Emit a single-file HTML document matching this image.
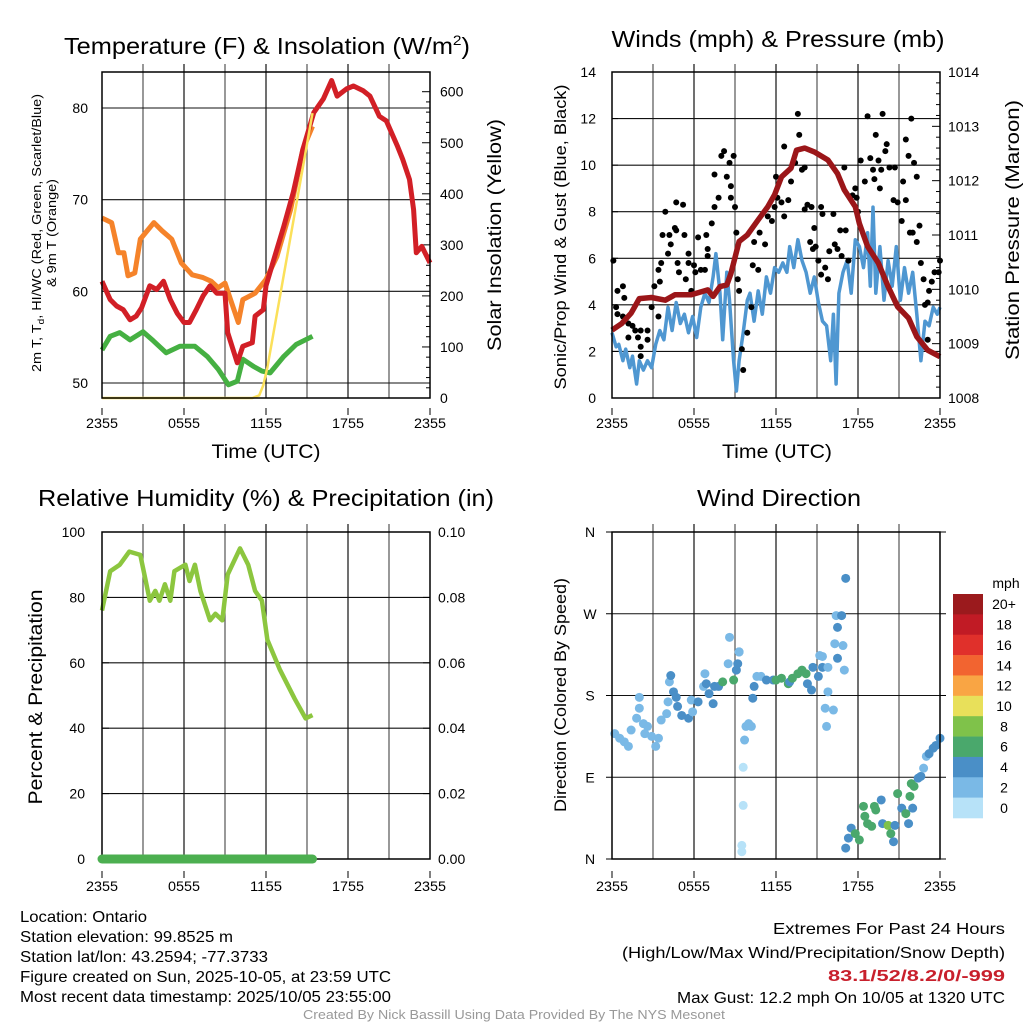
<!DOCTYPE html>
<html><head><meta charset="utf-8"><style>
body{margin:0;background:#fff;}
svg{display:block;font-family:"Liberation Sans",sans-serif;}
</style></head><body>
<svg id="s" width="1024" height="1024" viewBox="0 0 1024 1024"></svg>
<script>
// ---------------- DATA ----------------
const xTickLabels = ["2355","0555","1155","1755","2355"];
const tempHours = [0,0.6,1.07,1.56,2.05,2.5,2.9,3.5,4.0,4.5,5.0,5.5,6.0,6.4,6.9,7.4,7.9,8.4,9.0,9.2,9.6,9.9,10.3,11.0,11.2,11.8,12.0,12.5,13.3,14.0,14.7,15.5,16.2,16.8,17.2,17.9,18.4,19.1,19.6,20.3,20.8,21.6,22.0,22.5,22.8,23.0,23.4,24.0];
const tempValues = [61.1,59.1,58.4,58.0,56.9,57.3,58.2,60.6,60.2,61.1,59.1,57.6,56.6,56.6,58.0,59.5,60.6,59.8,59.8,55.5,53.6,52.2,54.0,54.4,57.3,58.0,60.6,63.1,67.1,70.8,75.5,79.5,81.0,83.0,81.3,82.1,82.4,81.9,81.3,79.1,78.6,75.9,74.4,72.2,68.9,64.2,64.9,63.1];
const t9Hours = [0,0.7,1.2,1.6,1.9,2.4,2.8,3.8,4.4,5.1,5.8,6.6,7.4,8.0,8.5,9.0,9.5,9.97,10.3,11.2,12.0,12.8,13.8,14.7,15.4];
const t9Values = [68.0,67.5,64.2,64.2,61.7,62.0,65.7,67.5,66.6,65.7,63.1,61.8,61.5,61.1,60.4,60.9,58.7,56.6,59.1,59.8,61.3,63.8,68.9,75.5,78.0];
const dewHours = [0,0.6,1.3,2.05,3.0,3.75,4.7,5.7,6.8,7.7,8.5,9.25,9.9,10.3,11.1,11.7,12.3,13.3,14.2,15.4];
const dewValues = [53.6,55.1,55.5,54.7,55.6,54.6,53.3,54.0,54.0,52.9,51.5,49.8,50.2,52.6,51.8,51.3,51.1,52.9,54.2,55.1];
const solarHours = [0,11.0,11.5,11.8,12.1,15.4];
const solarValues = [0,0,5,25,60,558];
const presHours = [0,0.7,1.4,2.0,2.9,3.9,4.6,5.8,7.0,7.4,7.9,8.4,8.7,9.3,9.9,10.7,11.4,11.9,12.4,13.1,13.5,14.1,14.8,15.8,16.5,17.0,17.8,18.1,18.7,19.5,20.2,20.9,21.7,22.3,23.1,24.0];
const presValues = [1009.25,1009.37,1009.56,1009.83,1009.85,1009.8,1009.9,1009.9,1009.99,1009.87,1010.05,1010.08,1010.29,1010.88,1011.0,1011.28,1011.52,1011.74,1012.07,1012.23,1012.56,1012.6,1012.53,1012.38,1012.13,1011.83,1011.52,1011.21,1010.79,1010.48,1010.05,1009.68,1009.47,1009.13,1008.88,1008.76];
const windHours = [0,0.3,0.5,0.8,1.0,1.3,1.5,1.8,2.0,2.3,2.6,2.9,3.2,3.5,3.8,4.1,4.4,4.7,5.0,5.3,5.6,5.9,6.2,6.5,6.8,7.1,7.4,7.6,7.9,8.1,8.4,8.6,8.9,9.1,9.3,9.6,9.9,10.1,10.4,10.7,11.0,11.3,11.6,11.9,12.2,12.5,12.8,13.0,13.3,13.6,13.9,14.2,14.5,14.8,15.1,15.4,15.7,16.0,16.2,16.4,16.6,16.9,17.2,17.5,17.8,18.1,18.4,18.7,18.9,19.1,19.3,19.6,19.9,20.2,20.5,20.8,21.1,21.4,21.7,22.0,22.3,22.6,22.9,23.2,23.5,23.8,24.0];
const windValues = [2.8,2.2,2.3,1.6,2.1,1.3,1.8,0.6,1.6,1.2,1.6,1.3,2.3,2.9,2.5,3.9,2.9,4.1,3.2,3.6,2.8,3.5,2.6,3.9,4.5,4.1,5.2,6.2,4.5,2.5,5.4,4.2,1.6,0.3,1.6,2.8,4.2,4.5,3.3,4.6,3.6,5.2,4.5,5.6,5.4,5.8,5.4,6.5,5.6,6.8,5.9,5.4,4.5,5.2,4.1,3.3,3.1,1.6,3.6,0.6,4.5,5.4,5.9,4.5,6.8,6.5,5.6,7.1,4.8,8.2,4.5,6.5,4.2,5.9,4.8,6.5,4.2,5.6,4.5,5.4,3.6,1.6,3.3,3.1,3.9,3.6,3.9];
const gustHours = [0.1,0.4,0.8,0.9,0.3,0.4,0.8,1.2,1.5,1.2,1.7,1.9,2.1,2.6,2.1,2.1,2.6,2.9,3.1,3.4,3.4,3.6,3.5,3.7,3.9,4.1,4.2,4.3,4.6,4.7,4.7,4.8,4.9,5.2,5.3,5.4,5.6,5.6,5.8,6.0,6.1,6.5,6.8,6.3,6.9,7.0,7.0,7.3,7.5,7.8,7.5,8.0,8.2,8.4,8.7,8.9,8.6,8.7,9.0,9.1,9.2,9.3,9.5,9.6,9.9,10.2,10.3,10.7,10.4,10.8,11.2,11.4,11.7,11.9,12.0,12.1,12.4,12.6,12.6,12.9,13.1,13.4,13.6,13.7,13.9,14.1,14.1,14.3,14.6,14.8,14.5,14.7,14.9,15.1,15.3,15.4,15.3,15.6,15.8,15.9,16.2,16.3,16.5,16.7,16.8,17.0,17.1,17.3,17.6,17.8,17.9,18.0,18.2,18.5,18.7,18.9,19.1,19.2,19.3,19.5,19.6,19.7,19.8,20.0,20.1,20.3,20.6,20.7,20.9,21.2,21.3,21.5,21.5,21.7,21.8,21.9,22.0,22.1,22.3,22.3,22.5,22.6,22.8,22.9,23.1,23.2,23.4,23.6,23.9,24.0,23.1];
const gustValues = [5.9,4.6,4.8,4.3,3.9,3.6,3.5,3.2,3.1,2.6,2.9,2.6,2.9,2.9,2.2,1.8,2.5,3.9,4.8,3.5,5.5,5.8,5.0,7.0,8.0,6.2,7.0,6.6,7.3,7.2,8.4,5.8,5.4,8.3,7.0,5.1,6.2,5.8,4.6,5.7,5.4,5.5,5.5,6.9,7.0,6.4,6.1,7.5,8.2,8.6,9.6,10.4,10.6,9.5,9.1,10.4,10.1,8.6,8.2,7.1,5.1,4.6,2.1,1.2,2.8,3.9,5.7,5.5,6.7,7.1,6.6,7.8,7.6,8.2,9.5,8.6,8.4,10.8,7.8,8.5,9.3,10.1,12.2,11.3,9.8,9.9,8.1,8.3,8.2,7.3,6.7,6.4,6.5,5.9,8.2,7.9,5.3,5.6,5.1,6.3,7.9,6.6,6.4,7.2,6.1,9.9,7.2,5.9,8.7,9.0,8.6,8.0,10.2,9.3,12.1,10.3,9.8,9.4,11.3,10.2,9.0,9.8,12.2,10.6,10.9,9.9,8.5,9.9,8.4,7.6,9.3,8.5,11.1,10.4,7.1,12.0,7.1,10.1,9.5,6.7,7.4,5.8,5.1,4.0,4.1,4.6,5.0,5.4,5.4,5.9,2.5];
const rhHours = [0,0.6,1.3,2.0,2.8,3.1,3.5,3.9,4.2,4.6,5.0,5.3,6.1,6.4,6.8,7.2,7.9,8.3,8.8,9.2,10.1,10.7,11.2,11.7,12.1,13.0,14.1,14.9,15.4];
const rhValues = [76,88,90,94,93,87,79,82,79,84,79,88,90,85,90,82,73,75,73,87,95,90,82,79,67,58,49,43,44];
const precipHours = [0,15.4];
const precipValues = [0,0];
const dirHours = [0.2,0.56,0.9,1.2,1.4,1.8,2.0,2.0,2.3,2.6,2.4,2.9,3.2,3.4,3.6,4.0,4.1,4.2,4.3,4.5,4.7,4.8,5.1,5.6,5.9,5.8,6.3,6.7,6.8,6.9,7.1,7.4,7.5,7.8,8.1,8.5,8.6,8.9,9.1,9.2,9.3,9.3,9.6,9.7,9.8,10.0,10.2,9.6,9.5,9.5,10.3,10.4,10.6,10.9,11.3,11.8,12.0,12.4,12.9,13.0,13.2,13.6,13.9,14.2,14.3,14.6,14.7,15.1,15.2,15.4,15.4,15.6,15.7,15.8,15.8,16.2,16.3,16.4,16.5,16.5,16.8,16.9,17.0,17.1,17.1,17.3,17.5,17.8,18.1,18.4,18.5,18.7,19.0,19.2,19.3,19.7,19.8,20.2,20.4,20.6,20.7,20.9,21.2,21.5,21.7,21.8,21.9,22.0,22.1,22.4,22.6,22.8,23.0,23.2,23.5,23.7,24.0];
const dirDegrees = [138,133,129,124,142,155,178,166,149,146,138,135,124,133,153,160,173,195,202,184,178,168,158,155,162,175,173,190,204,193,182,171,190,190,195,215,244,197,208,215,228,228,101,131,146,149,146,59,15,8,177,190,201,201,197,197,197,199,193,195,199,204,208,204,193,186,211,201,224,223,211,166,146,184,211,164,237,268,255,221,268,235,208,309,12,23,34,28,21,58,47,39,36,58,54,65,39,37,28,19,37,72,56,50,39,69,83,56,80,89,91,100,113,116,122,125,133];
const dirSpeeds = [2,2,2,1.5,2,2,1,1,1,1,2,2,1.5,2.5,2,2,2,2,4,4,4,4,4,3.5,2,2,4,2,2,4,4,4,4,4,6,2,2,6,4,4,4,2,0.5,1,1,2,2,0.5,0.5,0.5,4,4,2,2,4,4,6,6,6,4,6,6,6,6,4,4,4,4,2,2,4,2,2,2,2,2,2,2,4,4,4,2,1,4,4,4,4,6,6,6,6,6,6,6,6,4,4,8,6,4,4,6,4,6,4,6,6,4,6,4,4,2,2,4,4,4,4];
const cbLabels = ["20+","18","16","14","12","10","8","6","4","2","0"];
const cbColors = ["#9b1a1d","#c11b25","#e0302b","#f26430","#f9a544","#e8e05a","#7fc24a","#4aa86c","#4a8fc7","#7ab9e6","#b7e2f8"];

// ---------------- HELPERS ----------------
const NS="http://www.w3.org/2000/svg";
const svg=document.getElementById('s');
function mk(tag,attrs,parent){const e=document.createElementNS(NS,tag);for(const k in attrs)e.setAttribute(k,attrs[k]);(parent||svg).appendChild(e);return e;}
function txt(str,x,y,size,opts,parent){opts=opts||{};const a={x:x,y:y,'font-size':size,fill:opts.fill||'#000','text-anchor':opts.anchor||'start'};
 if(opts.len){a.textLength=opts.len;a.lengthAdjust='spacingAndGlyphs';}
 if(opts.rot!==undefined)a.transform='rotate('+opts.rot+' '+x+' '+y+')';
 if(opts.weight)a['font-weight']=opts.weight;
 const t=mk('text',a,parent);t.textContent=str;return t;}
function lin(d0,d1,r0,r1){return v=>r0+(v-d0)/(d1-d0)*(r1-r0);}
function pathD(xs,ys,sx,sy){return xs.map((h,i)=>(i?'L':'M')+sx(h).toFixed(1)+' '+sy(ys[i]).toFixed(1)).join(' ');}
function grid(g,L,R,T,B,nv,hy){
 for(let i=1;i<8;i++){const x=L+(R-L)*i/8;mk('line',{x1:x,x2:x,y1:T-8,y2:B,stroke:(i%2?'#555':'#111'),'stroke-width':1.2},g);}
 hy.forEach(y=>mk('line',{x1:L,x2:R,y1:y,y2:y,stroke:'#111','stroke-width':1.1},g));
}
function frame(g,L,R,T,B){mk('rect',{x:L,y:T,width:R-L,height:B-T,fill:'none',stroke:'#000','stroke-width':1.5},g);}
function xLabels(g,L,R,y){xTickLabels.forEach((s,i)=>{const x=L+(R-L)*i/4;mk('line',{x1:x,x2:x,y1:y-20,y2:y-13,stroke:'#000'},g);const t=txt(s,x,y,14,{anchor:'middle',len:32},g);});}

// ---------------- PANEL 1: Temperature ----------------
{
 const L=102,R=430,T=72,B=398;
 const g=mk('g',{});
 const sx=lin(0,24,L,R), sy=lin(50,80,383,108), ss=lin(0,600,398,91.7);
 grid(g,L,R,T,B,8,[50,60,70,80].map(sy));
 [50,60,70,80].forEach(v=>{const t=txt(String(v),88,sy(v)+5,14,{anchor:'end'},g);});
 for(let v=0;v<=600;v+=20){const y=ss(v);if(y<T)break;mk('line',{x1:R-(v%100?4:8),x2:R,y1:y,y2:y,stroke:'#000'},g);}
 for(let v=0;v<=600;v+=100){const t=txt(String(v),440,ss(v)+5,14,{},g);}
 const p1=mk('path',{d:pathD(t9Hours,t9Values,sx,sy),fill:'none',stroke:'#f5832a','stroke-width':5,'stroke-linejoin':'round'},g);
 const p2=mk('path',{d:pathD(dewHours,dewValues,sx,sy),fill:'none',stroke:'#45b042','stroke-width':5,'stroke-linejoin':'round'},g);
 const p3=mk('path',{d:pathD(tempHours,tempValues,sx,sy),fill:'none',stroke:'#d21f26','stroke-width':5,'stroke-linejoin':'round'},g);
 const p4=mk('path',{d:pathD(solarHours,solarValues,sx,ss),fill:'none',stroke:'#fbe05a','stroke-width':2.5},g);
 frame(g,L,R,T,B);
 xLabels(g,L,R,428);
 const t1=mk('text',{x:64,y:54,'font-size':23,textLength:406,lengthAdjust:'spacingAndGlyphs'},g);t1.innerHTML='Temperature (F) &amp; Insolation (W/m<tspan font-size="14" dy="-9">2</tspan><tspan dy="9">)</tspan>';
 
 let t=txt('Time (UTC)',266,458,19,{anchor:'middle',len:109},g);
 t=mk('text',{x:41,y:233,'font-size':13,'text-anchor':'middle',transform:'rotate(-90 41 233)',textLength:278,lengthAdjust:'spacingAndGlyphs'},g);
 t.innerHTML='2m T, T<tspan font-size="9" dy="3">d</tspan><tspan dy="-3">, HI/WC (Red, Green, Scarlet/Blue)</tspan>';
 
 t=txt('& 9m T (Orange)',56,233,13,{anchor:'middle',rot:-90,len:108},g);
 t=txt('Solar Insolation (Yellow)',501,235,19,{anchor:'middle',rot:-90,len:232},g);
}

// ---------------- PANEL 2: Winds ----------------
{
 const L=612,R=940,T=72,B=398;
 const g=mk('g',{});
 const sx=lin(0,24,L,R), sy=lin(0,14,398,72), sp=lin(1008,1014,398,72);
 grid(g,L,R,T,B,8,[2,4,6,8,10,12].map(sy));
 for(let v=0;v<=14;v+=2){const t=txt(String(v),596,sy(v)+5,14,{anchor:'end'},g);mk('line',{x1:L,x2:L+6,y1:sy(v),y2:sy(v),stroke:'#000'},g);}
 for(let v=1008;v<=1014;v+=1){const t=txt(String(v),948,sp(v)+5,14,{},g);
  for(let k=0;k<5&&v+k*0.2<1014.01;k++){const y=sp(v+k*0.2);mk('line',{x1:R-(k?4:8),x2:R,y1:y,y2:y,stroke:'#000'},g);}}
 const w=mk('path',{d:pathD(windHours,windValues,sx,sy),fill:'none',stroke:'#4f97d1','stroke-width':3.5,'stroke-linejoin':'round'},g);
 gustHours.forEach((h,i)=>{const c=mk('circle',{cx:sx(h),cy:sy(gustValues[i]),r:3,fill:'#000'},g);});
 const p=mk('path',{d:pathD(presHours,presValues,sx,sp),fill:'none',stroke:'#9b1619','stroke-width':5.5,'stroke-linejoin':'round'},g);
 frame(g,L,R,T,B);
 xLabels(g,L,R,428);
 let t=txt('Winds (mph) & Pressure (mb)',778,47,23,{anchor:'middle',len:333},g);
 t=txt('Time (UTC)',777,458,19,{anchor:'middle',len:110},g);
 t=txt('Sonic/Prop Wind & Gust (Blue, Black)',566,237,17,{anchor:'middle',rot:-90,len:305},g);
 t=txt('Station Pressure (Maroon)',1019,230,19,{anchor:'middle',rot:-90,len:260},g);
}

// ---------------- PANEL 3: RH ----------------
{
 const L=102,R=430,T=532,B=859;
 const g=mk('g',{});
 const sx=lin(0,24,L,R), sy=lin(0,100,859,532), sp=lin(0,0.1,859,532);
 grid(g,L,R,T,B,8,[20,40,60,80].map(sy));
 for(let v=0;v<=100;v+=20){const t=txt(String(v),85,sy(v)+5,14,{anchor:'end'},g);mk('line',{x1:L,x2:L+7,y1:sy(v),y2:sy(v),stroke:'#000'},g);}
 for(let k=0;k<=5;k++){const v=k*0.02;const t=txt(v.toFixed(2),438,sp(v)+5,14,{},g);mk('line',{x1:R-7,x2:R,y1:sp(v),y2:sp(v),stroke:'#000'},g);}
 const r=mk('path',{d:pathD(rhHours,rhValues,sx,sy),fill:'none',stroke:'#8cc63f','stroke-width':4.5,'stroke-linejoin':'round'},g);
 frame(g,L,R,T,B);
 const pr=mk('path',{d:pathD(precipHours,precipValues,sx,sp),fill:'none',stroke:'#4caf50','stroke-width':9,'stroke-linecap':'round'},g);
 xLabels(g,L,R,891);
 let t=txt('Relative Humidity (%) & Precipitation (in)',266,506,23,{anchor:'middle',len:456},g);
 t=txt('Percent & Precipitation',42,697,19,{anchor:'middle',rot:-90,len:215},g);
}

// ---------------- PANEL 4: Wind direction ----------------
{
 const L=612,R=940,T=532,B=859;
 const g=mk('g',{});
 const sx=lin(0,24,L,R), sy=lin(0,360,859,532);
 grid(g,L,R,T,B,8,[90,180,270].map(sy));
 ["N","E","S","W","N"].forEach((s,i)=>{const v=i*90;const t=txt(s,590,sy(v)+5,14,{anchor:'middle'},g);mk('line',{x1:L-6,x2:L,y1:sy(v),y2:sy(v),stroke:'#000'},g);mk('line',{x1:R,x2:R+6,y1:sy(v),y2:sy(v),stroke:'#000'},g);});
 function col(sp){let idx=Math.min(10,Math.floor(sp/2+0.5));if(sp<1)idx=0;return cbColors[10-idx];}
 dirHours.forEach((h,i)=>{const c=mk('circle',{cx:sx(h),cy:sy(dirDegrees[i]),r:4.5,fill:col(dirSpeeds[i])},g);});
 frame(g,L,R,T,B);
 xLabels(g,L,R,891);
 let t=txt('Wind Direction',779,506,23,{anchor:'middle',len:164},g);
 t=txt('Direction (Colored By Speed)',566,695,17,{anchor:'middle',rot:-90,len:234},g);
 const cb=mk('g',{},svg);
 const bh=(818-594)/11;
 cbColors.forEach((c,i)=>{const r=mk('rect',{x:953,y:594+i*bh,width:30,height:bh+0.3,fill:c},cb);
  const lt=txt(cbLabels[i],1004,594+i*bh+bh/2+5,14,{anchor:'middle'},cb);});
 t=txt('mph',1006,588,14,{anchor:'middle'},cb);
}

// ---------------- FOOTER TEXT ----------------
{
 const g=mk('g',{});
 const lines=[["Location: Ontario",127],["Station elevation: 99.8525 m",213],["Station lat/lon: 43.2594; -77.3733",248],["Figure created on Sun, 2025-10-05, at 23:59 UTC",371],["Most recent data timestamp: 2025/10/05 23:55:00",371]];
 lines.forEach((l,i)=>{const t=txt(l[0],20,922+i*20,16,{len:l[1]},g);});
 const e=mk('g',{});
 let t=txt('Extremes For Past 24 Hours',1005,934,16,{anchor:'end',len:232},e);
 t=txt('(High/Low/Max Wind/Precipitation/Snow Depth)',1005,958,16,{anchor:'end',len:383},e);
 t=txt('83.1/52/8.2/0/-999',1005,981,16,{anchor:'end',len:177,fill:'#c8202c',weight:'bold'},e);
 t=txt('Max Gust: 12.2 mph On 10/05 at 1320 UTC',1005,1003,16,{anchor:'end',len:328},e);
 t=txt('Created By Nick Bassill Using Data Provided By The NYS Mesonet',514,1019,12.5,{anchor:'middle',len:422,fill:'#999'},svg);
}
</script>
</body></html>
